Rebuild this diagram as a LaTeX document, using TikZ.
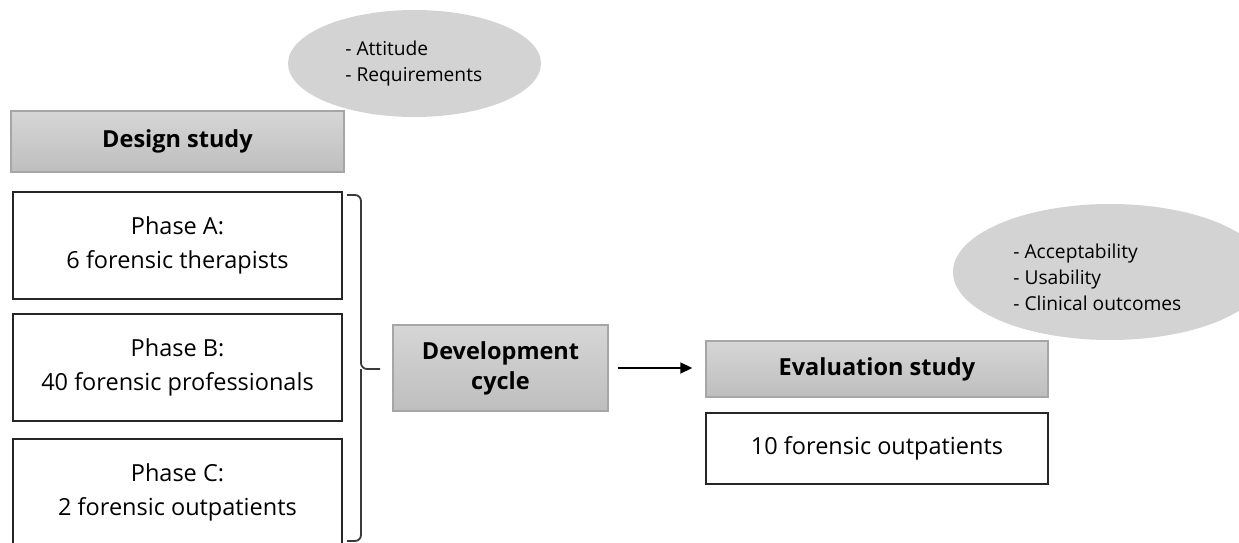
\documentclass[tikz,border=0pt]{standalone}
\usepackage{fontspec}
\setmainfont{Open Sans}
\usetikzlibrary{shapes.geometric,arrows.meta}
\definecolor{ellfill}{HTML}{D3D3D3}
\definecolor{gtop}{HTML}{D6D6D6}
\definecolor{gbot}{HTML}{BEBEBE}
\definecolor{gborder}{HTML}{A6A6A6}
\definecolor{brk}{HTML}{3A3A3A}
\begin{document}
\begin{tikzpicture}[x=0.5pt,y=-0.5pt,
  graybox/.style={draw=gborder, line width=0.7pt, top color=gtop, bottom color=gbot, inner sep=0pt, font=\fontsize{11.75pt}{15pt}\selectfont\bfseries, align=center},
  whitebox/.style={draw=black!85, line width=0.9pt, fill=white, inner sep=0pt, font=\fontsize{11.75pt}{17pt}\selectfont, align=center},
  bubble/.style={ellipse, fill=ellfill, draw=none, inner sep=0pt},
  bubbletext/.style={font=\fontsize{9.6pt}{13pt}\selectfont, align=left, anchor=west, inner sep=0pt},
  bracket/.style={draw=brk, line width=0.9pt, rounded corners=3pt},
  arr/.style={-{Triangle[length=6pt,width=5.5pt]}, line width=0.9pt}
]
\useasboundingbox (0,0) rectangle (1239,542);
\clip (0,0) rectangle (1239,542);
% bubbles
\node[bubble, minimum width=126.5pt, minimum height=53.5pt] (ell1) at (414.5,63.5) {};
\node[bubbletext] (ell1t) at (345,63.5) {- Attitude\\- Requirements};
\node[bubble, minimum width=157pt, minimum height=68pt] (ell2) at (1110,272) {};
\node[bubbletext] (ell2t) at (1013,277) {- Acceptability\\- Usability\\- Clinical outcomes};
% design study
\node[graybox, minimum width=166.5pt, minimum height=30.5pt] (design) at (177.5,141.5) {Design study};
\node[whitebox, minimum width=164.5pt, minimum height=53.5pt] (phaseA) at (177.5,245.5) {Phase A:\\6 forensic therapists};
\node[whitebox, minimum width=164.5pt, minimum height=53.5pt] (phaseB) at (177.5,367.5) {Phase B:\\40 forensic professionals};
\node[whitebox, minimum width=164.5pt, minimum height=53.5pt] (phaseC) at (177.5,492.5) {Phase C:\\2 forensic outpatients};
% development
\node[graybox, minimum width=107.5pt, minimum height=43pt] (dev) at (500.5,368) {Development\\cycle};
% evaluation
\node[graybox, minimum width=171pt, minimum height=28pt] (eval) at (877,369) {Evaluation study};
\node[whitebox, minimum width=171pt, minimum height=35.5pt] (out) at (877,448.5) {10 forensic outpatients};
% bracket
\coordinate (bt) at (347,195);
\coordinate (bm) at (361,369);
\coordinate (bb) at (347,541);
\coordinate (tick) at (380,369);
\draw[bracket] (bt) -| (bm) -- (tick);
\draw[bracket] (bm) |- (bb);
% arrow
\draw[arr, shorten <=4.5pt, shorten >=6.5pt] (dev.east) -- (dev.east -| eval.west);
\end{tikzpicture}
\end{document}
